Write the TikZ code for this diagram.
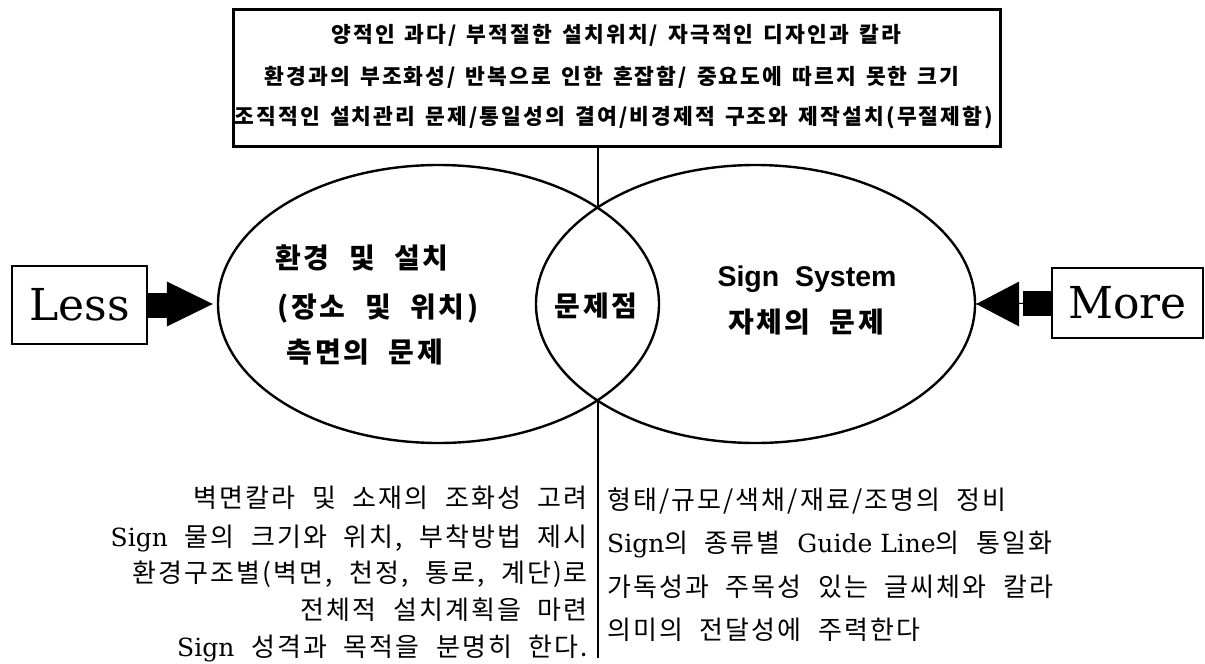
\documentclass[tikz,border=0pt]{standalone}
\usepackage{fontspec}
\usetikzlibrary{shapes.geometric,calc}
\newfontfamily\krTop{Noto Sans CJK KR}[LetterSpace=10,WordSpace=1.4]
\newfontfamily\krEl{Noto Sans CJK KR}[LetterSpace=9,WordSpace=2.2]
\newfontfamily\krTxt{Noto Sans CJK KR}[LetterSpace=8,WordSpace=2.1]
\newfontfamily\latS{DejaVu Serif}
\newfontfamily\sansB{Liberation Sans}[WordSpace=2]
\newcommand{\Lt}[1]{{\latS\fontsize{25}{26}\selectfont #1}}
\begin{document}
\begin{tikzpicture}[x=1pt,y=-1pt,
  frame/.style={draw,line width=2.6pt,inner sep=0pt},
  oval/.style={draw,ellipse,line width=2.4pt,inner sep=0pt,minimum width=441pt,minimum height=278pt},
  toptext/.style={font=\krTop\bfseries\fontsize{21.5}{24}\selectfont,anchor=base,inner sep=0pt},
  ovaltext/.style={font=\krEl\bfseries\fontsize{28}{30}\selectfont,anchor=base,inner sep=0pt},
  signtext/.style={font=\sansB\bfseries\fontsize{28.5}{30}\selectfont,anchor=base,inner sep=0pt},
  lefttext/.style={font=\krTxt\fontsize{26}{28}\selectfont,anchor=base east,inner sep=0pt},
  righttext/.style={font=\krTxt\fontsize{26}{28}\selectfont,anchor=base west,inner sep=0pt},
  sidebox/.style={frame,font=\latS\fontsize{44}{48}\selectfont},
  rule/.style={line width=2.4pt}
]
\fill[white] (0,0) rectangle (1205,664);
\useasboundingbox (0,0) rectangle (1205,664);

% top box
\node[frame,line width=2.8pt,minimum width=767pt,minimum height=137pt,anchor=north west] (top) at (232,8) {};
\node[toptext] (t1) at (616,42) {양적인 과다/ 부적절한 설치위치/ 자극적인 디자인과 칼라};
\node[toptext] (t2) at (612,84) {환경과의 부조화성/ 반복으로 인한 혼잡함/ 중요도에 따르지 못한 크기};
\node[toptext] (t3) at (614,124) {조직적인 설치관리 문제/통일성의 결여/비경제적 구조와 제작설치(무절제함)};

% ellipses
\node[oval] (L) at (438.5,304) {};
\node[oval,minimum width=439pt] (R) at (755.5,304) {};

% vertical rule
\coordinate (ti) at (598,208);
\coordinate (bi) at (598,400);
\coordinate (bend) at (598,658);
\draw[rule] (top.south -| ti) -- (ti);
\draw[rule] (bi) -- (bend);

% ellipse texts
\node[ovaltext] (a1) at (362,268) {환경 및 설치};
\node[ovaltext] (a2) at (378,317) {(장소 및 위치)};
\node[ovaltext] (a3) at (365,362) {측면의 문제};
\node[ovaltext] (mid) at (596,316) {문제점};
\node[signtext] (b1) at (807,286) {Sign System};
\node[ovaltext] (b2) at (806,332) {자체의 문제};

% side boxes
\node[sidebox,minimum width=135pt,minimum height=78pt] (less) at (79.5,305) {Less};
\node[sidebox,minimum width=151pt,minimum height=70pt] (more) at (1127.5,303) {More};

% Less arrow
\fill ([yshift=12.5pt]less.east) rectangle ([xshift=21pt,yshift=-12.5pt]less.east);
\fill ([xshift=-4pt]L.west) -- ++(-46,-22.5) -- ++(0,45) -- cycle;

% More arrow
\draw[line width=1pt] (R.east) -- (more.west);
\fill (R.east) -- ++(43,-22.5) -- ++(0,45) -- cycle;
\fill ([xshift=-28pt,yshift=12.5pt]more.west) rectangle ([yshift=-12.5pt]more.west);

% bottom texts
\node[lefttext] (l1) at (588,507) {벽면칼라 및 소재의 조화성 고려};
\node[lefttext] (l2) at (588,546) {\Lt{Sign} 물의 크기와 위치, 부착방법 제시};
\node[lefttext] (l3) at (588,582) {환경구조별(벽면, 천정, 통로, 계단)로};
\node[lefttext] (l4) at (588,619) {전체적 설치계획을 마련};
\node[lefttext] (l5) at (588,656) {\Lt{Sign} 성격과 목적을 분명히 한다.};

\node[righttext] (r1) at (607,509) {형태/규모/색채/재료/조명의 정비};
\node[righttext] (r2) at (607,552) {\Lt{Sign}의 종류별 \Lt{Guide Line}의 통일화};
\node[righttext] (r3) at (607,596) {가독성과 주목성 있는 글씨체와 칼라};
\node[righttext] (r4) at (607,639) {의미의 전달성에 주력한다};
\end{tikzpicture}
\end{document}
